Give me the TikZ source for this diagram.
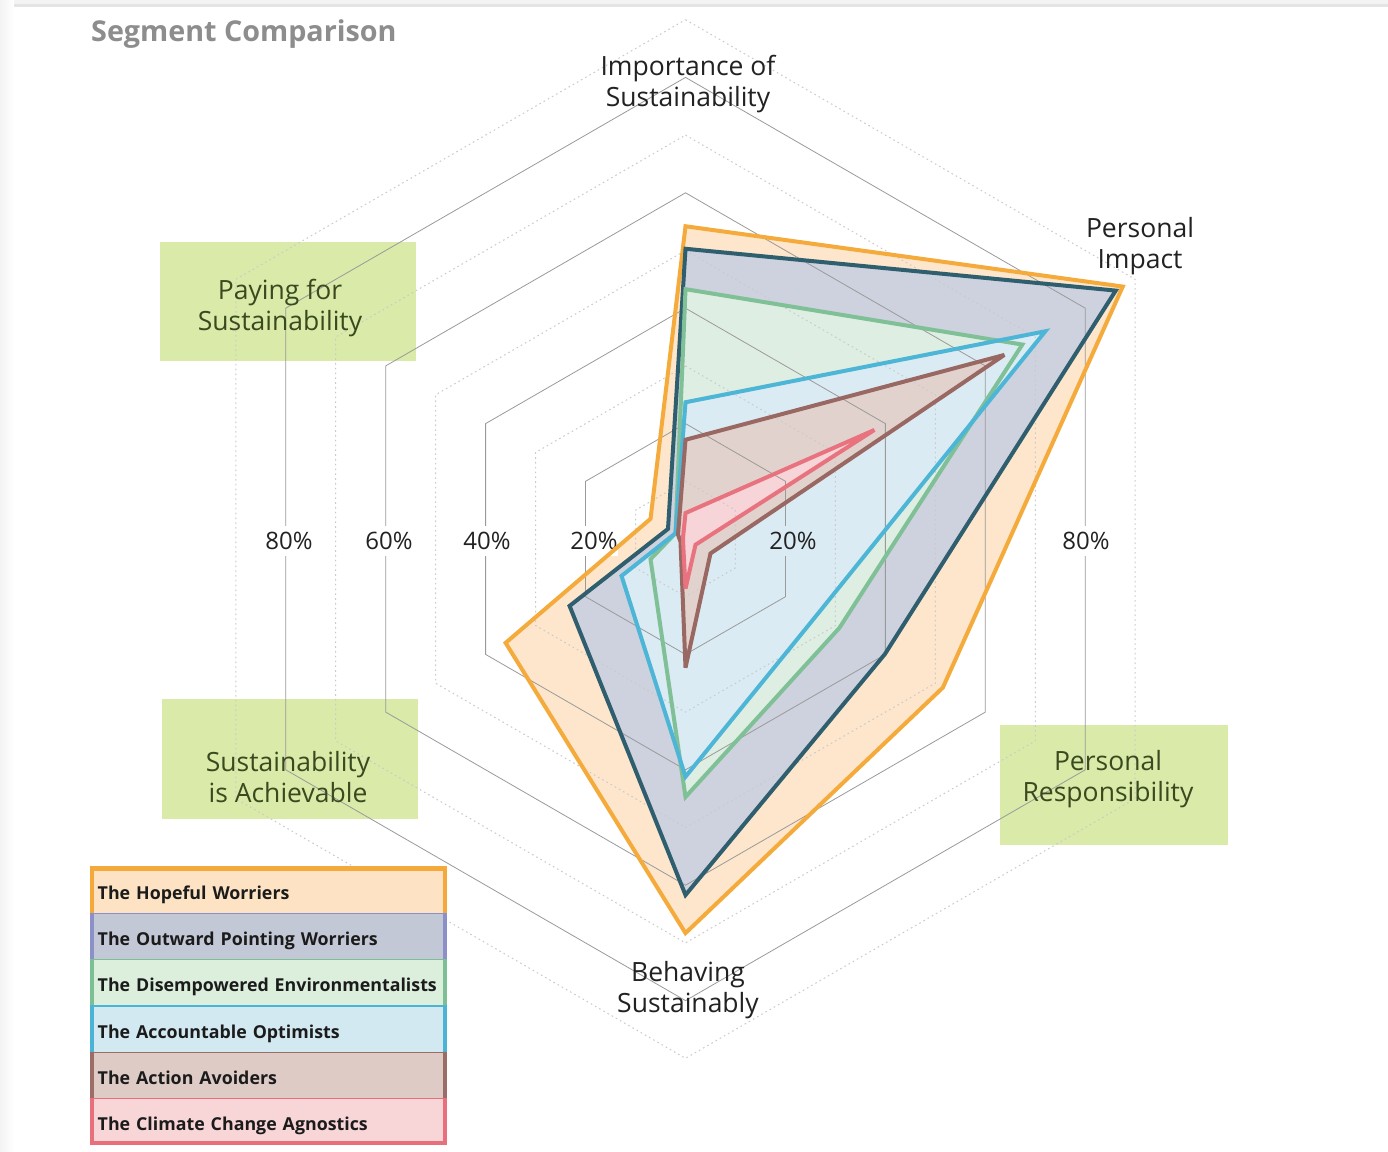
\documentclass[tikz,border=0pt]{standalone}
\usepackage{fontspec}
\setmainfont{Open Sans}
\definecolor{hopS}{HTML}{F4AB3C}
\definecolor{hopF}{HTML}{FDE6CC}
\definecolor{outS}{HTML}{2F5E6F}
\definecolor{outF}{HTML}{CDD2DE}
\definecolor{disS}{HTML}{80C097}
\definecolor{disF}{HTML}{DEEEE3}
\definecolor{accS}{HTML}{4DB5D6}
\definecolor{accF}{HTML}{DBEBF3}
\definecolor{avoS}{HTML}{9A6863}
\definecolor{avoF}{HTML}{E2D2CE}
\definecolor{agnS}{HTML}{E8737F}
\definecolor{agnF}{HTML}{F6D4D7}
\definecolor{lgHopF}{HTML}{FDE3C4}
\definecolor{lgHopB}{HTML}{F5A93A}
\definecolor{lgOutF}{HTML}{C3C8D6}
\definecolor{lgOutB}{HTML}{8C90C8}
\definecolor{lgDisF}{HTML}{DCEFDD}
\definecolor{lgDisB}{HTML}{7DBF95}
\definecolor{lgAccF}{HTML}{D3E9F2}
\definecolor{lgAccB}{HTML}{4BB3D5}
\definecolor{lgAvoF}{HTML}{DECBC6}
\definecolor{lgAvoB}{HTML}{9C6C67}
\definecolor{lgAgnF}{HTML}{F8D5D7}
\definecolor{lgAgnB}{HTML}{E8707C}
\definecolor{gridgray}{HTML}{9A9A9A}
\definecolor{dotgray}{HTML}{CACACA}
\definecolor{boxgreen}{HTML}{DAEAA9}
\definecolor{boxtext}{HTML}{3A4A1F}
\definecolor{labtext}{HTML}{222222}
\definecolor{lgtext}{HTML}{1B1B1B}
\definecolor{titlegray}{HTML}{8D8D8D}
\definecolor{bandA}{HTML}{F3F3F3}
\definecolor{bandB}{HTML}{E4E4E4}
\newcommand\radarpath[6]{(-90:{#1*5.77}) -- (-30:{#2*5.77}) -- (30:{#3*5.77}) -- (90:{#4*5.77}) -- (150:{#5*5.77}) -- (210:{#6*5.77}) -- cycle}
\begin{document}
\begin{tikzpicture}[x=1pt,y=-1pt,
  gridsolid/.style={draw=gridgray,line width=0.8pt},
  griddot/.style={draw=dotgray,line width=1pt,dash pattern=on 1.6pt off 3.2pt},
  serstroke/.style={line width=4pt,line join=miter,miter limit=3},
  axlabel/.style={font=\fontsize{26.5}{31}\selectfont,text=labtext,align=center,inner sep=0pt},
  boxlabel/.style={font=\fontsize{26.5}{31}\selectfont,text=boxtext,align=center,inner sep=0pt},
  pctlabel/.style={font=\fontsize{24}{28}\selectfont,text=labtext,inner xsep=0.5pt,inner ysep=6pt,fill=#1},
  pctlabel/.default=white,
  greenbox/.style={fill=boxgreen,inner sep=0pt,anchor=north west},
  lgrow/.style={anchor=north west,fill=#1,minimum width=357pt,minimum height=46.3pt,text width=341pt,text height=17.7pt,text depth=0pt,align=left,inner sep=0pt,font=\bfseries\fontsize{17.8}{21}\selectfont,text=lgtext},
]
\useasboundingbox (0,0) rectangle (1388,1151);
\fill[white] (0,0) rectangle (1388,1151);
\fill[bandA] (0,0) rectangle (1388,7);
\fill[bandB] (13,4) rectangle (1388,7);
\shade[left color=bandA,right color=white] (0,0) rectangle (14,1151);

% green axis boxes
\node[greenbox,minimum width=256pt,minimum height=119pt] (payBox) at (160,242) {};
\node[greenbox,minimum width=256pt,minimum height=120pt] (achBox) at (162,699) {};
\node[greenbox,minimum width=228pt,minimum height=120pt] (respBox) at (1000,725) {};

\begin{scope}[shift={(685.5,539)}]
  % fills
  \fill[hopF] \radarpath{54.2}{87.5}{51.5}{68.3}{36}{7};
  \fill[outF] \radarpath{50.3}{86.1}{39.9}{61.7}{23.2}{3.5};
  \fill[disF] \radarpath{43.3}{67.4}{30.8}{44.7}{7}{2};
  \fill[accF] \radarpath{23.7}{72}{26.3}{41.2}{12.8}{2};
  \fill[avoF] \radarpath{17.2}{63.8}{5}{22.3}{1}{1.5};
  \fill[agnF] \radarpath{4.5}{37.8}{2}{8.6}{0.5}{0.5};
  % grid
  \foreach \p in {10,30,50,70,90} \draw[griddot] \radarpath{\p}{\p}{\p}{\p}{\p}{\p};
  \foreach \p in {20,40,60,80} \draw[gridsolid] \radarpath{\p}{\p}{\p}{\p}{\p}{\p};
\end{scope}

% percentage labels
\node[pctlabel] (p80l) at (289,541) {80\%};
\node[pctlabel] (p60l) at (389,541) {60\%};
\node[pctlabel] (p40l) at (487,541) {40\%};
\node[pctlabel] (p20l) at (594,541) {20\%};
\node[pctlabel=accF] (p20r) at (793,541) {20\%};
\node[pctlabel] (p80r) at (1086,541) {80\%};

% axis labels
\node[axlabel] (impLab) at (688,84) {Importance of\\Sustainability};
\node[axlabel] (piLab) at (1140,246.5) {Personal\\Impact};
\node[axlabel] (behLab) at (688,990) {Behaving\\Sustainably};
\node[boxlabel] (payLab) at (280,308) {Paying for\\Sustainability};
\node[boxlabel] (achLab) at (288,777) {Sustainability\\is Achievable};
\node[boxlabel] (respLab) at (1108,779) {Personal\\Responsibility};

% series outlines
\begin{scope}[shift={(685.5,539)}]
  \draw[serstroke,hopS] \radarpath{54.2}{87.5}{51.5}{68.3}{36}{7};
  \draw[serstroke,outS] \radarpath{50.3}{86.1}{39.9}{61.7}{23.2}{3.5};
  \draw[serstroke,disS] \radarpath{43.3}{67.4}{30.8}{44.7}{7}{2};
  \draw[serstroke,accS] \radarpath{23.7}{72}{26.3}{41.2}{12.8}{2};
  \draw[serstroke,avoS] \radarpath{17.2}{63.8}{5}{22.3}{1}{1.5};
  \draw[serstroke,agnS] \radarpath{4.5}{37.8}{2}{8.6}{0.5}{0.5};
\end{scope}

% title
\node[anchor=base west,inner sep=0pt,font=\bfseries\fontsize{28.7}{34}\selectfont,text=titlegray] (title) at (91,41) {Segment Comparison};

% legend
\node[lgrow=lgHopF] (lg1) at (89.5,867) {The Hopeful Worriers};
\node[lgrow=lgOutF] (lg2) at (89.5,913.3) {The Outward Pointing Worriers};
\node[lgrow=lgDisF] (lg3) at (89.5,959.7) {The Disempowered Environmentalists};
\node[lgrow=lgAccF] (lg4) at (89.5,1006) {The Accountable Optimists};
\node[lgrow=lgAvoF] (lg5) at (89.5,1052.3) {The Action Avoiders};
\node[lgrow=lgAgnF] (lg6) at (89.5,1098.7) {The Climate Change Agnostics};
\foreach \r/\c in {lg1/lgHopB,lg2/lgOutB,lg3/lgDisB,lg4/lgAccB,lg5/lgAvoB,lg6/lgAgnB}{
  \fill[\c] (\r.north west) rectangle ([xshift=4pt]\r.south west);
  \fill[\c] ([xshift=-4pt]\r.north east) rectangle (\r.south east);
  \draw[\c,line width=1.3pt] (\r.north west) -- (\r.north east);
}
\fill[lgHopB] (lg1.north west) rectangle ([yshift=-4pt]lg1.north east);
\fill[lgAgnB] ([yshift=4pt]lg6.south west) rectangle (lg6.south east);
\end{tikzpicture}
\end{document}
